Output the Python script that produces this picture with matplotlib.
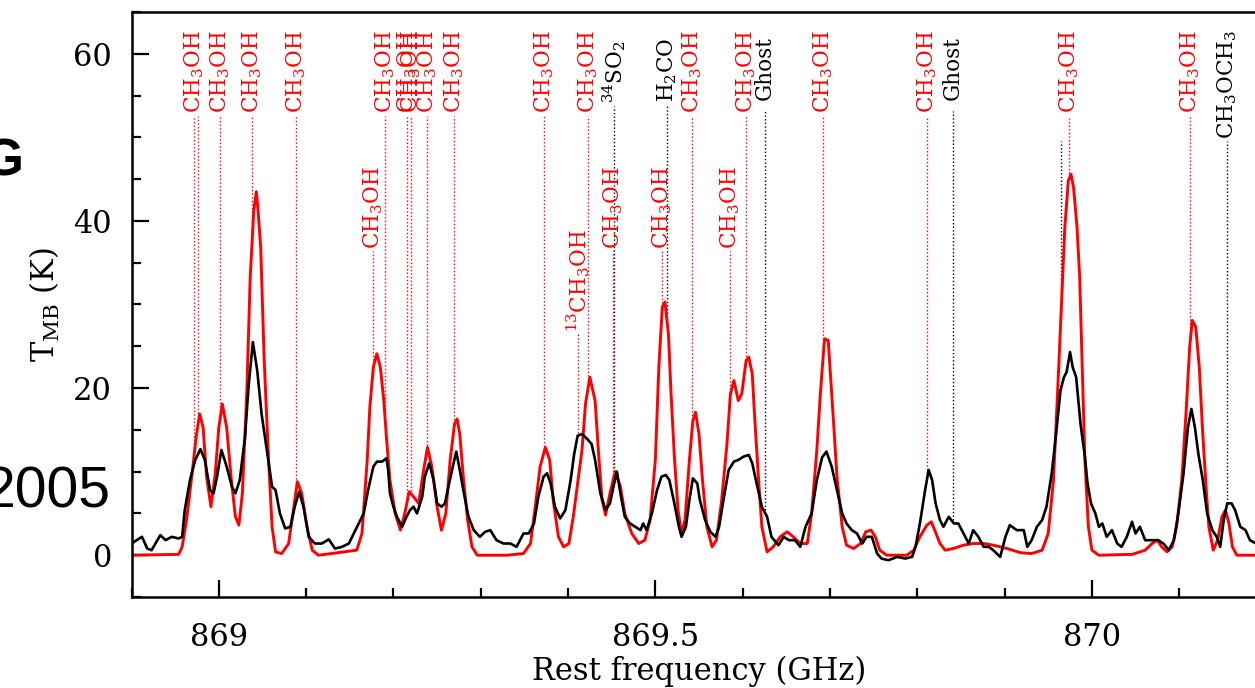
import matplotlib
matplotlib.use("Agg")
import matplotlib.pyplot as plt
import numpy as np
from matplotlib.ticker import MultipleLocator, FuncFormatter

plt.rcParams['font.family'] = ['DejaVu Serif']
plt.rcParams['mathtext.fontset'] = 'dejavuserif'

# ---------------- observed spectrum (black) ----------------
obs_freq = [868.900, 868.912, 868.918, 868.923, 868.933, 868.939, 868.946, 868.954, 868.958, 868.961,
            868.967, 868.973, 868.979, 868.984, 868.990, 868.994, 868.998, 869.003, 869.009, 869.015,
            869.019, 869.024, 869.030, 869.034, 869.039, 869.044, 869.049, 869.055, 869.061, 869.065,
            869.070, 869.076, 869.082, 869.087, 869.092, 869.097, 869.103, 869.110, 869.118, 869.126,
            869.133, 869.141, 869.149, 869.156,
            869.166, 869.171, 869.177, 869.181, 869.187, 869.192, 869.194, 869.196, 869.200, 869.204,
            869.210, 869.215, 869.219, 869.223, 869.227, 869.233, 869.236, 869.241, 869.246, 869.250,
            869.255, 869.259, 869.263, 869.268, 869.272, 869.276, 869.280, 869.286, 869.292, 869.299,
            869.305, 869.311, 869.318, 869.326, 869.334, 869.341, 869.349, 869.355, 869.361, 869.366,
            869.372, 869.376, 869.380, 869.385, 869.391, 869.397, 869.403, 869.407, 869.411,
            869.416, 869.422, 869.427, 869.431, 869.437, 869.443, 869.448, 869.452, 869.456, 869.460,
            869.465, 869.471, 869.477, 869.483, 869.486, 869.490, 869.496, 869.502, 869.507, 869.512,
            869.516, 869.521, 869.527, 869.530, 869.535, 869.539, 869.543, 869.548, 869.551, 869.557,
            869.563, 869.569, 869.573, 869.578, 869.584, 869.590, 869.595, 869.601, 869.607, 869.611,
            869.616, 869.622, 869.628, 869.633, 869.641, 869.647, 869.653, 869.660, 869.666, 869.672,
            869.679, 869.685, 869.691, 869.696, 869.702, 869.708, 869.714, 869.719, 869.725, 869.731,
            869.737, 869.742, 869.748, 869.754, 869.759, 869.767, 869.777, 869.786, 869.794, 869.798,
            869.803, 869.809, 869.813, 869.817, 869.821, 869.826, 869.830, 869.836, 869.842, 869.847,
            869.853, 869.859, 869.864, 869.870, 869.876, 869.882, 869.887, 869.895, 869.901, 869.906,
            869.914, 869.922, 869.926,
            869.931, 869.937, 869.943, 869.948, 869.954, 869.959, 869.964, 869.968, 869.971, 869.975,
            869.978, 869.982, 869.987, 869.992, 869.995, 869.999, 870.004, 870.008, 870.012, 870.017,
            870.023, 870.029, 870.034, 870.040, 870.046, 870.050, 870.055, 870.061, 870.069, 870.076,
            870.082, 870.088, 870.094, 870.099, 870.105, 870.110, 870.114, 870.118, 870.122, 870.127,
            870.132, 870.138, 870.143, 870.147, 870.151, 870.155, 870.160, 870.164, 870.170, 870.176,
            870.181, 870.188]
obs_tmb = [1.4, 2.2, 0.8, 0.6, 2.4, 1.8, 2.2, 2.0, 2.2, 5.4,
           9.0, 11.4, 12.7, 11.4, 7.8, 7.4, 9.4, 12.6, 10.6, 8.2,
           7.4, 9.0, 14.1, 20.1, 25.5, 22.1, 16.9, 12.6, 8.2, 7.8,
           5.0, 3.2, 3.4, 5.8, 7.6, 5.8, 2.2, 1.4, 1.4, 1.9,
           0.8, 1.0, 1.4, 2.9,
           5.0, 7.8, 10.6, 11.2, 11.2, 11.6, 10.2, 7.4, 5.8, 4.6,
           3.4, 4.6, 5.4, 5.8, 5.0, 7.0, 9.4, 11.0, 9.0, 6.2,
           5.8, 6.2, 8.2, 10.6, 12.4, 10.2, 7.8, 4.6, 3.0, 2.2,
           2.8, 3.0, 1.8, 1.4, 1.4, 1.0, 2.6, 2.6, 3.8, 7.0,
           9.4, 9.8, 8.6, 5.8, 4.4, 5.4, 9.0, 12.1, 14.3,
           14.5, 13.9, 13.3, 11.4, 7.4, 5.4, 6.2, 8.2, 10.0, 7.4,
           4.6, 3.8, 3.4, 3.0, 3.8, 3.0, 5.0, 7.8, 9.4, 9.6,
           9.0, 6.6, 3.4, 2.2, 3.4, 6.6, 9.2, 8.6, 6.6, 4.2,
           2.8, 2.2, 3.4, 6.6, 10.2, 11.2, 11.4, 11.8, 12.0, 11.0,
           8.6, 5.8, 4.6, 2.2, 1.2, 2.2, 1.8, 1.8, 1.0, 3.4,
           5.0, 9.0, 11.7, 12.4, 10.6, 7.8, 5.0, 3.8, 3.0, 2.6,
           1.4, 2.2, 2.2, 0.2, -0.4, -0.6, -0.2, -0.4, -0.2, 1.0,
           3.8, 7.8, 10.2, 9.0, 6.2, 4.2, 3.4, 4.6, 3.8, 3.8,
           2.6, 1.4, 3.0, 2.2, 1.0, 1.0, 0.6, -0.2, 2.2, 3.6,
           3.0, 3.0, 1.0,
           1.8, 3.4, 4.2, 5.8, 9.8, 14.5, 19.7, 21.3, 21.9, 24.3,
           22.5, 21.3, 15.7, 11.8, 8.6, 6.2, 5.0, 3.4, 3.8, 2.2,
           3.0, 1.4, 1.0, 2.2, 4.0, 2.6, 3.4, 1.8, 1.8, 1.8,
           1.4, 0.6, 1.8, 5.0, 9.8, 15.3, 17.5, 15.3, 12.1, 9.0,
           5.0, 3.0, 2.2, 1.0, 4.2, 6.2, 6.2, 5.4, 3.4, 3.0,
           1.8, 1.4]

# ---------------- model spectrum (red) ----------------
mod_freq = [868.900, 868.954, 868.958, 868.963, 868.969, 868.974, 868.978, 868.982, 868.986, 868.991,
            868.996, 869.000, 869.004, 869.009, 869.014, 869.019, 869.023, 869.027, 869.032, 869.036,
            869.040, 869.043, 869.045, 869.048, 869.052, 869.057, 869.061, 869.065, 869.072, 869.080,
            869.086, 869.090, 869.095, 869.101, 869.107, 869.114,
            869.158, 869.164, 869.170, 869.173, 869.177, 869.181, 869.185, 869.189, 869.192, 869.196,
            869.202, 869.208, 869.213, 869.218, 869.223, 869.229, 869.234, 869.239, 869.244, 869.250,
            869.255, 869.260, 869.265, 869.270, 869.273, 869.276, 869.280, 869.285, 869.290, 869.296,
            869.330, 869.349, 869.357, 869.362, 869.368, 869.374, 869.379, 869.383, 869.389, 869.395,
            869.401, 869.406, 869.412,
            869.416, 869.420, 869.425, 869.431, 869.435, 869.439, 869.443, 869.448, 869.454, 869.460,
            869.465, 869.473, 869.481, 869.488, 869.494, 869.500, 869.504, 869.508, 869.511, 869.515,
            869.518, 869.522, 869.526, 869.530, 869.534, 869.539, 869.543, 869.546, 869.550, 869.554,
            869.559, 869.565, 869.570, 869.576, 869.582, 869.586, 869.590, 869.595, 869.599, 869.604,
            869.607, 869.611, 869.614, 869.618, 869.622, 869.628, 869.635, 869.643, 869.651, 869.658,
            869.666, 869.674,
            869.679, 869.685, 869.689, 869.693, 869.694, 869.698, 869.701, 869.704, 869.708, 869.714,
            869.719, 869.727, 869.735, 869.741, 869.747, 869.752, 869.757, 869.765, 869.788, 869.796,
            869.803, 869.811, 869.816, 869.820, 869.826, 869.832, 869.841, 869.853, 869.864, 869.876,
            869.887, 869.903, 869.918, 869.931,
            869.943, 869.950, 869.956, 869.961, 869.966, 869.969, 869.973, 869.976, 869.979, 869.983,
            869.986, 869.989, 869.992, 869.996, 870.000, 870.008, 870.046, 870.061, 870.069, 870.075,
            870.080, 870.086, 870.092, 870.097, 870.103, 870.108, 870.112, 870.115, 870.119, 870.123,
            870.127, 870.131, 870.134, 870.139, 870.144, 870.149, 870.153, 870.157, 870.161, 870.166,
            870.188]
mod_tmb = [0.0, 0.1, 1.0, 4.2, 9.4, 14.1, 16.9, 15.3, 9.4, 5.8,
           9.8, 15.3, 18.1, 15.3, 9.4, 4.6, 3.6, 7.4, 19.4, 33.3,
           41.2, 43.5, 41.2, 36.8, 23.3, 11.4, 3.4, 0.4, 0.2, 1.4,
           5.8, 8.8, 7.4, 3.4, 0.6, 0.0,
           0.6, 2.6, 11.4, 17.7, 22.5, 24.1, 22.5, 18.5, 14.1, 9.0,
           5.0, 3.0, 5.0, 7.6, 7.0, 6.2, 9.8, 12.9, 10.6, 5.8,
           3.0, 5.0, 11.4, 15.7, 16.3, 14.5, 9.4, 4.2, 1.0, 0.0,
           0.0, 0.2, 1.4, 5.4, 10.6, 12.9, 11.4, 6.6, 2.2, 1.0,
           1.4, 4.6, 9.4,
           12.6, 18.1, 21.3, 18.5, 12.1, 6.6, 4.8, 7.4, 10.0, 8.2,
           5.0, 2.6, 1.4, 1.8, 4.2, 11.4, 22.5, 29.7, 30.3, 26.5,
           19.3, 11.4, 5.4, 2.6, 4.2, 11.4, 16.1, 17.1, 14.5, 9.0,
           3.4, 1.0, 1.8, 6.6, 13.3, 19.3, 20.9, 18.5, 19.3, 23.3,
           23.7, 21.7, 16.1, 9.4, 3.4, 0.4, 1.0, 2.2, 2.8, 2.2,
           1.4, 1.4,
           5.0, 12.6, 19.3, 24.9, 25.9, 25.7, 20.9, 16.1, 9.4, 3.4,
           1.2, 0.8, 1.4, 2.8, 3.0, 2.2, 0.6, 0.0, 0.0, 0.6,
           2.2, 3.6, 4.0, 3.0, 1.4, 0.6, 0.8, 1.2, 1.4, 1.4,
           1.2, 0.8, 0.3, 0.2,
           0.6, 2.6, 9.0, 20.1, 32.1, 39.2, 44.8, 45.6, 44.0, 39.2,
           33.3, 22.5, 11.4, 3.4, 0.6, 0.0, 0.1, 0.6, 1.4, 1.8,
           1.0, 0.4, 1.0, 3.4, 9.0, 17.3, 24.9, 28.1, 27.3, 22.5,
           14.5, 7.8, 3.4, 0.6, 1.8, 4.6, 5.4, 3.8, 1.0, 0.0,
           0.0]

# ---------------- line identifications ----------------
line_freq = [868.9714, 868.9759, 869.0011, 869.0378, 869.0882, 869.1902, 869.2153, 869.2199, 869.2383,
             869.2692, 869.3723, 869.4227, 869.4525, 869.5132, 869.5418, 869.6037, 869.6254, 869.6919,
             869.8110, 869.8408, 869.9737, 870.1123, 870.1546,
             869.1764, 869.4112, 869.4513, 869.5074, 869.5853, 869.9645]
line_label = ['CH$_3$OH', '', 'CH$_3$OH', 'CH$_3$OH', 'CH$_3$OH', 'CH$_3$OH', 'CH$_3$OH', 'CH$_3$OH', 'CH$_3$OH',
              'CH$_3$OH', 'CH$_3$OH', 'CH$_3$OH', '$^{34}$SO$_2$', 'H$_2$CO', 'CH$_3$OH', 'CH$_3$OH', 'Ghost', 'CH$_3$OH',
              'CH$_3$OH', 'Ghost', 'CH$_3$OH', 'CH$_3$OH', 'CH$_3$OCH$_3$',
              'CH$_3$OH', '$^{13}$CH$_3$OH', 'CH$_3$OH', 'CH$_3$OH', 'CH$_3$OH', '']
line_color = ['red', 'red', 'red', 'red', 'red', 'red', 'red', 'red', 'red',
              'red', 'red', 'red', 'black', 'black', 'red', 'red', 'black', 'red',
              'red', 'black', 'red', 'red', 'black',
              'red', 'red', 'red', 'red', 'red', 'black']
# label centre height and top of the marker line (K)
label_y = [57.9, 57.9, 57.9, 57.9, 57.9, 57.9, 57.9, 57.9, 57.9,
           57.9, 57.9, 57.9, 57.8, 58.1, 57.9, 57.9, 58.3, 57.9,
           57.9, 58.3, 57.9, 57.9, 56.3,
           41.6, 32.9, 41.6, 41.6, 41.6, 50.0]
line_top = [52.6, 52.6, 52.6, 52.6, 52.6, 52.6, 52.6, 52.6, 52.6,
            52.6, 52.6, 52.6, 53.8, 54.0, 52.6, 52.6, 53.2, 52.6,
            52.6, 53.2, 52.6, 52.6, 49.6,
            36.4, 26.5, 36.4, 36.4, 36.4, 49.6]

fig = plt.figure(figsize=(12.55, 6.88), dpi=100)
ax = fig.add_axes([131.5 / 1255, 1 - 597 / 688, 1135 / 1255, 585 / 688])

obs_f = np.array(obs_freq); obs_t = np.array(obs_tmb)
mod_f = np.array(mod_freq); mod_t = np.array(mod_tmb)

for f, lab, c, ly, lt in zip(line_freq, line_label, line_color, label_y, line_top):
    bottom = max(np.interp(f, obs_f, obs_t), np.interp(f, mod_f, mod_t)) + 0.3
    ax.plot([f, f], [bottom, lt], color=c, lw=1.0, ls=(0, (1, 1.6)), zorder=1)
    if lab:
        ax.text(f, ly, lab, rotation=90, ha='center', va='center', color=c,
                fontsize=15.5, zorder=4)

ax.plot(mod_f, mod_t, color='#ff0000', lw=2.1, zorder=2)
ax.plot(obs_f, obs_t, color='black', lw=1.9, zorder=3)

ax.set_xlim(868.9, 870.2)
ax.set_ylim(-5, 65)
ax.xaxis.set_major_locator(MultipleLocator(0.5))
ax.xaxis.set_minor_locator(MultipleLocator(0.1))
ax.yaxis.set_major_locator(MultipleLocator(20))
ax.yaxis.set_minor_locator(MultipleLocator(5))
ax.xaxis.set_major_formatter(FuncFormatter(lambda v, p: f'{v:g}'))
ax.tick_params(which='both', direction='in', top=False, right=False, width=1.6, labelsize=22)
ax.tick_params(which='major', length=12.5)
ax.tick_params(which='minor', length=6.5)
ax.tick_params(axis='x', pad=18)
ax.tick_params(axis='y', pad=14)
for s in ax.spines.values():
    s.set_linewidth(1.8)

ax.set_xlabel('Rest frequency (GHz)', fontsize=22, labelpad=2)
ax.set_ylabel(r'T$_{\rm MB}$ (K)', fontsize=22, labelpad=8)

fig.text(24 / 1255, 1 - 162 / 688, 'G', fontsize=37, fontweight='bold',
         family='Liberation Sans', ha='right', va='center')
fig.text(110 / 1255, 1 - 492 / 688, '2005', fontsize=41,
         family='Liberation Sans', ha='right', va='center')

fig.savefig('out.png', dpi=100)
